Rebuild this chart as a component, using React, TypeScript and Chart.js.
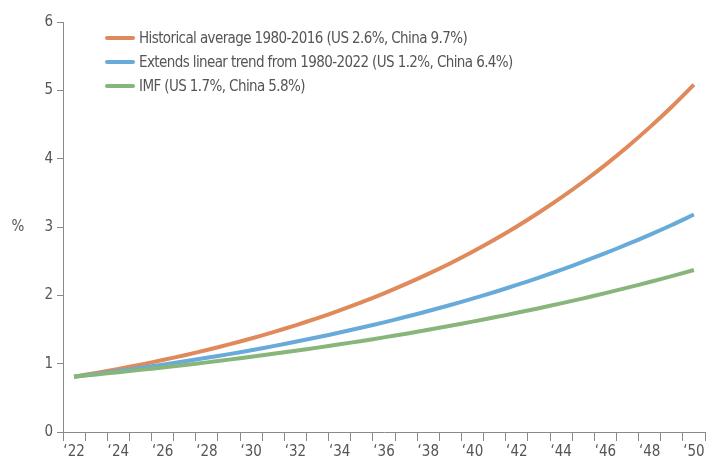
import React, { useEffect, useRef } from "react";
import { Chart, registerables } from "chart.js";

Chart.register(...registerables);

const years = [
  2022, 2023, 2024, 2025, 2026, 2027, 2028, 2029, 2030, 2031, 2032, 2033, 2034, 2035, 2036,
  2037, 2038, 2039, 2040, 2041, 2042, 2043, 2044, 2045, 2046, 2047, 2048, 2049, 2050,
];

const historical = [
  0.81, 0.865, 0.924, 0.986, 1.053, 1.124, 1.2, 1.282, 1.369, 1.462, 1.561, 1.667, 1.78, 1.9,
  2.029, 2.167, 2.314, 2.47, 2.638, 2.817, 3.008, 3.212, 3.429, 3.662, 3.91, 4.175, 4.458, 4.76,
  5.083,
];

const linearTrend = [
  0.81, 0.851, 0.893, 0.938, 0.985, 1.034, 1.086, 1.14, 1.197, 1.257, 1.32, 1.386, 1.456, 1.529,
  1.605, 1.686, 1.77, 1.859, 1.952, 2.049, 2.152, 2.26, 2.373, 2.492, 2.617, 2.748, 2.886, 3.03,
  3.182,
];

const imf = [
  0.81, 0.842, 0.875, 0.909, 0.944, 0.981, 1.019, 1.059, 1.101, 1.144, 1.188, 1.235, 1.283, 1.333,
  1.385, 1.439, 1.496, 1.554, 1.615, 1.678, 1.744, 1.812, 1.883, 1.956, 2.033, 2.112, 2.195, 2.281,
  2.37,
];

const seriesNames = [
  "Historical average 1980-2016 (US 2.6%, China 9.7%)",
  "Extends linear trend from 1980-2022 (US 1.2%, China 6.4%)",
  "IMF (US 1.7%, China 5.8%)",
];

const seriesColors = ["#E0895A", "#68AAD9", "#88B57A"];

const FONT = '"Liberation Sans Narrow", "DejaVu Sans Condensed", "Arial Narrow", sans-serif';
const TEXT = "#555555";
const AXIS = "#8a8a8a";

const legendPlugin = {
  id: "customLegend",
  afterDraw(chart: any) {
    const ctx = chart.ctx;
    ctx.save();
    ctx.font = `15px ${FONT}`;
    ctx.textBaseline = "middle";
    ctx.textAlign = "left";
    chart.data.datasets.forEach((ds: any, i: number) => {
      const y = 38 + i * 24;
      ctx.strokeStyle = ds.borderColor;
      ctx.lineWidth = 4;
      ctx.lineCap = "round";
      ctx.beginPath();
      ctx.moveTo(107, y);
      ctx.lineTo(133, y);
      ctx.stroke();
      ctx.fillStyle = TEXT;
      try {
        (ctx as any).letterSpacing = "-0.6px";
      } catch (e) {}
      ctx.fillText(ds.label, 139, y + 1);
      try {
        (ctx as any).letterSpacing = "0px";
      } catch (e) {}
    });
    ctx.textAlign = "center";
    ctx.fillText("%", 18, (chart.chartArea.top + chart.chartArea.bottom) / 2);
    ctx.restore();
  },
};

export default function App() {
  const ref = useRef<HTMLCanvasElement | null>(null);
  useEffect(() => {
    if (!ref.current) return;
    const values = [historical, linearTrend, imf];
    const chart = new Chart(ref.current, {
      type: "line",
      data: {
        labels: years.map(String),
        datasets: values.map((v, i) => ({
          label: seriesNames[i],
          data: v,
          borderColor: seriesColors[i],
          backgroundColor: seriesColors[i],
          borderWidth: 4,
          pointRadius: 0,
          tension: 0.3,
          fill: false,
          order: 3 - i,
        })),
      },
      options: {
        animation: false,
        responsive: true,
        maintainAspectRatio: false,
        layout: { padding: { top: 22, right: 2, left: 0, bottom: 0 } },
        plugins: {
          legend: { display: false },
          tooltip: { enabled: false },
        },
        scales: {
          x: {
            type: "category",
            offset: true,
            afterFit: (s: any) => {
              s.height = 31;
            },
            grid: {
              offset: true,
              drawOnChartArea: false,
              color: AXIS,
              tickLength: 9,
              tickWidth: 1,
            },
            border: { color: AXIS, width: 1 },
            ticks: {
              autoSkip: false,
              maxRotation: 0,
              padding: 2,
              color: TEXT,
              font: { family: FONT, size: 15 },
              callback: (_v: any, i: number) =>
                i % 2 === 0 ? "\u2018" + String(years[i]).slice(2) : "",
            },
          },
          y: {
            min: 0,
            max: 6,
            afterFit: (s: any) => {
              s.width = 63;
            },
            grid: {
              drawOnChartArea: false,
              color: AXIS,
              tickLength: 6,
            },
            border: { color: AXIS, width: 1 },
            ticks: {
              stepSize: 1,
              padding: 4,
              color: TEXT,
              font: { family: FONT, size: 15 },
            },
          },
        },
      },
      plugins: [legendPlugin],
    });
    return () => chart.destroy();
  }, []);
  return (
    <div style={{ position: "fixed", left: 0, top: 0, width: 707, height: 463, background: "#fff" }}>
      <canvas ref={ref} />
    </div>
  );
}
